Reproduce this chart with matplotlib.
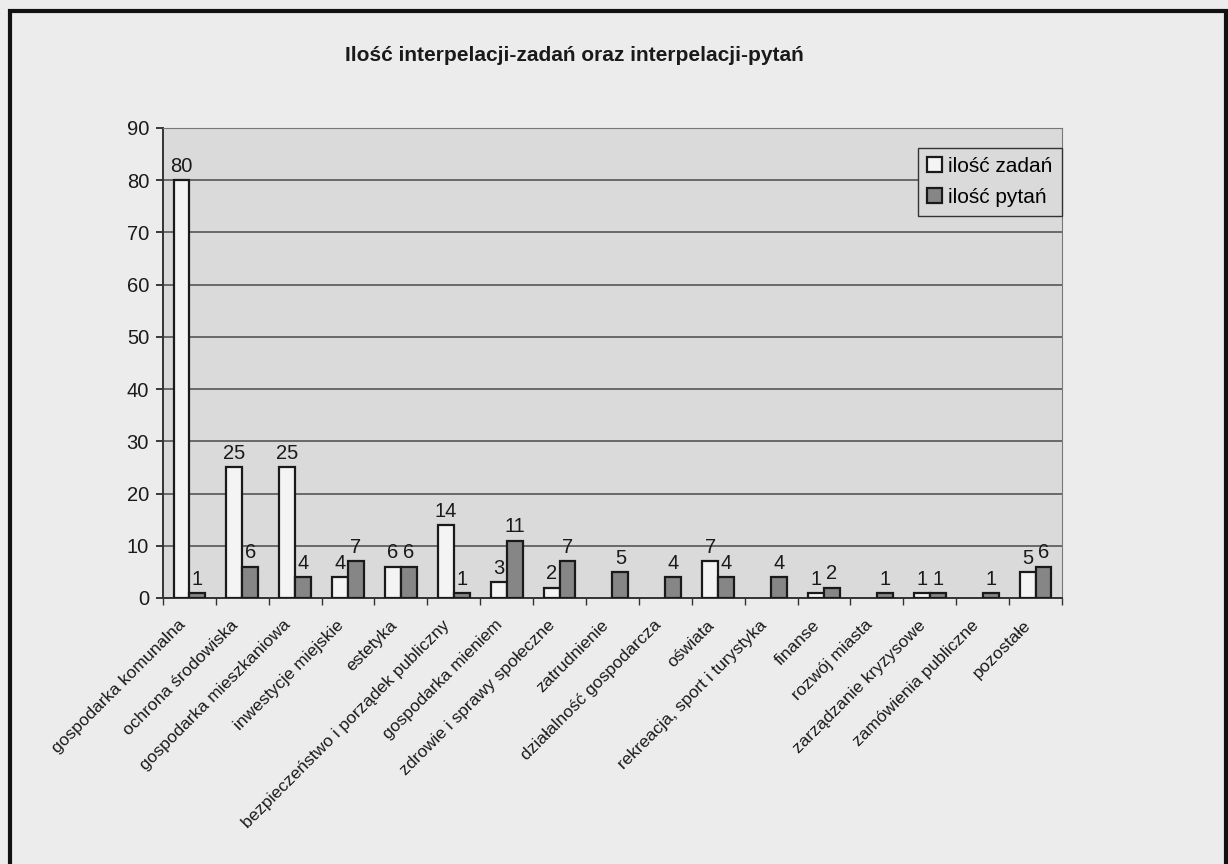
import numpy as np
import matplotlib.pyplot as plt
import matplotlib.transforms as mtransforms
from matplotlib.patches import Rectangle

plt.rcParams['font.family'] = ['Liberation Sans', 'DejaVu Sans']

# data (None = no bar / no label)
categories = [
    "gospodarka komunalna", "ochrona środowiska", "gospodarka mieszkaniowa",
    "inwestycje miejskie", "estetyka", "bezpieczeństwo i porządek publiczny",
    "gospodarka mieniem", "zdrowie i sprawy społeczne", "zatrudnienie",
    "działalność gospodarcza", "oświata", "rekreacja, sport i turystyka",
    "finanse", "rozwój miasta", "zarządzanie kryzysowe",
    "zamówienia publiczne", "pozostałe",
]
zadan = [80, 25, 25, 4, 6, 14, 3, 2, None, None, 7, None, 1, None, 1, None, 5]
pytan = [1, 6, 4, 7, 6, 1, 11, 7, 5, 4, 4, 4, 2, 1, 1, 1, 6]
series_names = ["ilość zadań", "ilość pytań"]
yticks = list(range(0, 91, 10))

FIG_BG = "#ececec"
AX_BG = "#dadada"

fig = plt.figure(figsize=(12.28, 8.64), dpi=100, facecolor=FIG_BG)
ax = fig.add_axes([0.1327, 0.3079, 0.7321, 0.544])
ax.set_facecolor(AX_BG)

x = np.arange(len(categories))
w = 0.3
z_vals = np.array([np.nan if v is None else v for v in zadan], dtype=float)
p_vals = np.array(pytan, dtype=float)

b1 = ax.bar(x - w / 2, np.nan_to_num(z_vals), w, color="#f4f4f4",
            edgecolor="#1a1a1a", linewidth=1.6, label=series_names[0], zorder=3)
b2 = ax.bar(x + w / 2, p_vals, w, color="#868686",
            edgecolor="#1a1a1a", linewidth=1.6, label=series_names[1], zorder=3)
for i, v in enumerate(z_vals):
    if np.isnan(v):
        b1[i].set_visible(False)

for bars, vals in ((b1, z_vals), (b2, p_vals)):
    for bar, v in zip(bars, vals):
        if np.isnan(v):
            continue
        ax.annotate(f"{int(v)}", (bar.get_x() + bar.get_width() / 2, v),
                    xytext=(0, 3), textcoords="offset points",
                    ha="center", va="bottom", fontsize=14.5, color="#1a1a1a")

ax.set_xlim(-0.5, len(categories) - 0.5)
ax.set_ylim(0, 90)
ax.set_yticks(yticks)
ax.tick_params(axis="y", labelsize=14.5, length=5, width=1.2, colors="#1a1a1a", pad=5)
ax.yaxis.grid(True, color="#555555", linewidth=1.2, zorder=0)
ax.set_axisbelow(True)

ax.set_xticks(x)
ax.set_xticklabels(categories, rotation=45, ha="right", va="top",
                   rotation_mode="anchor", fontsize=12.5, color="#1a1a1a")
ax.tick_params(axis="x", which="major", length=0, pad=14)
shift = mtransforms.ScaledTranslation(-12 / 100, 0, fig.dpi_scale_trans)
for lbl in ax.get_xticklabels():
    lbl.set_transform(lbl.get_transform() + shift)
ax.set_xticks(np.arange(len(categories) + 1) - 0.5, minor=True)
ax.tick_params(axis="x", which="minor", length=5, width=1.0, colors="#333333")

for s in ("left", "bottom"):
    ax.spines[s].set_color("#333333")
    ax.spines[s].set_linewidth(1.4)
for s in ("top", "right"):
    ax.spines[s].set_color("#777777")
    ax.spines[s].set_linewidth(0.8)

leg = ax.legend(loc="upper right", bbox_to_anchor=(1.0, 0.958), borderaxespad=0,
                fontsize=15, handlelength=0.7, handleheight=0.7, handletextpad=0.3,
                borderpad=0.45, labelspacing=0.55, fancybox=False,
                framealpha=1, facecolor=AX_BG, edgecolor="#333333")
leg.get_frame().set_linewidth(1.0)

fig.text(0.468, 0.936, "Ilość interpelacji-zadań oraz interpelacji-pytań",
         ha="center", va="center", fontsize=15, fontweight="bold", color="#1a1a1a")

# outer frame of the scanned chart
frame = Rectangle((10 / 1228, -0.05), 1216 / 1228, 1.05 - 11 / 864,
                  transform=fig.transFigure, fill=False, edgecolor="#111111",
                  linewidth=3, clip_on=False)
fig.patches.append(frame)

fig.savefig("out.png", dpi=100, facecolor=FIG_BG)
